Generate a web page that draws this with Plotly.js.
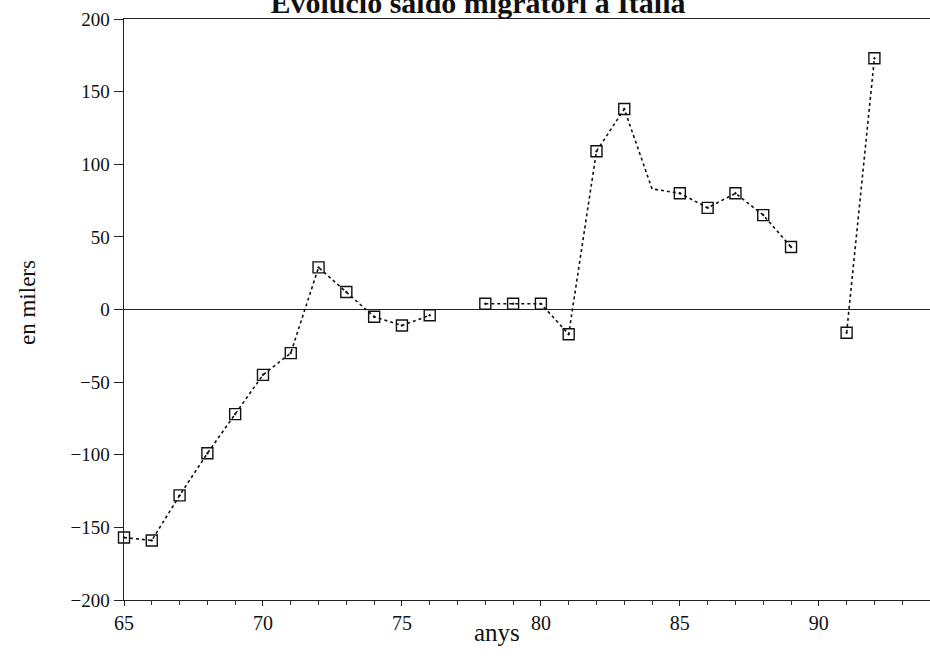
<!DOCTYPE html>
<html>
<head>
<meta charset="utf-8">
<script src="https://cdn.plot.ly/plotly-3.0.1.min.js"></script>
<style>html,body{margin:0;padding:0;background:#fff;}#chart{width:930px;height:656px;}</style>
</head>
<body>
<div id="chart"></div>
<script>
// Years (19xx) and net migration balance in Italy (thousands)
const years = [65, 66, 67, 68, 69, 70, 71, 72, 73, 74, 75, 76, 77, 78, 79, 80, 81, 82, 83, 84, 85, 86, 87, 88, 89, 90, 91, 92];
const saldo = [-157, -159, -128, -99, -72, -45, -30, 29, 12, -5, -11, -4, null, 4, 4, 4, -17, 109, 138, 83, 80, 70, 80, 65, 43, null, -16, 173];
const unmarkedYears = [84];
const xTickVals = [65, 70, 75, 80, 85, 90];
const yTickVals = [-200, -150, -100, -50, 0, 50, 100, 150, 200];
const titleText = "Evolució saldo migratori a Itàlia";
const xTitle = "anys";
const yTitle = "en milers";

const serif = "'Liberation Serif', 'Times New Roman', serif";

const lineTrace = {
  x: years, y: saldo, type: "scatter", mode: "lines",
  line: {color: "#111", width: 1.6, dash: "dot"},
  connectgaps: false, cliponaxis: false, hoverinfo: "skip"
};
const markerTrace = {
  x: years,
  y: saldo.map((v, i) => unmarkedYears.includes(years[i]) ? null : v),
  type: "scatter", mode: "markers",
  marker: {symbol: "square-open-dot", size: 11, color: "#111", line: {color: "#111", width: 1.4}},
  cliponaxis: false
};

const layout = {
  width: 930, height: 656,
  margin: {l: 124, r: 0, t: 19, b: 56},
  paper_bgcolor: "#fff", plot_bgcolor: "#fff",
  showlegend: false,
  font: {family: serif, color: "#111", size: 19},
  title: {
    text: "<b>" + titleText + "</b>",
    font: {family: serif, size: 30, color: "#111"},
    xref: "paper", x: (478 - 124) / 806, xanchor: "center",
    yref: "paper", y: 1, yanchor: "bottom", pad: {b: 6}
  },
  xaxis: {
    range: [65, 94], tickvals: xTickVals, ticktext: xTickVals.map(String),
    showgrid: false, zeroline: false,
    showline: true, linecolor: "#222", linewidth: 1.2, mirror: true,
    ticks: "outside", ticklen: 5, tickwidth: 1, tickcolor: "#222",
    minor: {dtick: 1, tick0: 65, ticks: "outside", ticklen: 4, tickcolor: "#333", showgrid: false},
    tickfont: {family: serif, size: 20, color: "#111"}
  },
  yaxis: {
    range: [-200, 200], tickvals: yTickVals, ticktext: yTickVals.map(v => v < 0 ? "\u2212" + Math.abs(v) : String(v)),
    showgrid: false,
    zeroline: true, zerolinecolor: "#222", zerolinewidth: 1.2,
    showline: true, linecolor: "#222", linewidth: 1.4,
    ticks: "outside", ticklen: 9, tickwidth: 1, tickcolor: "#222",
    tickfont: {family: serif, size: 19, color: "#111"}
  },
  annotations: [
    {text: xTitle, xref: "paper", yref: "paper", x: (497 - 124) / 806, y: -0.03, xanchor: "center", yanchor: "top",
     showarrow: false, font: {family: serif, size: 25, color: "#111"}},
    {text: yTitle, xref: "paper", yref: "paper", x: (27 - 124) / 806, y: (600 - 303) / 581, xanchor: "center", yanchor: "middle",
     textangle: -90, showarrow: false, font: {family: serif, size: 23, color: "#111"}}
  ]
};

Plotly.newPlot("chart", [lineTrace, markerTrace], layout, {displayModeBar: false, staticPlot: true});
</script>
</body>
</html>
